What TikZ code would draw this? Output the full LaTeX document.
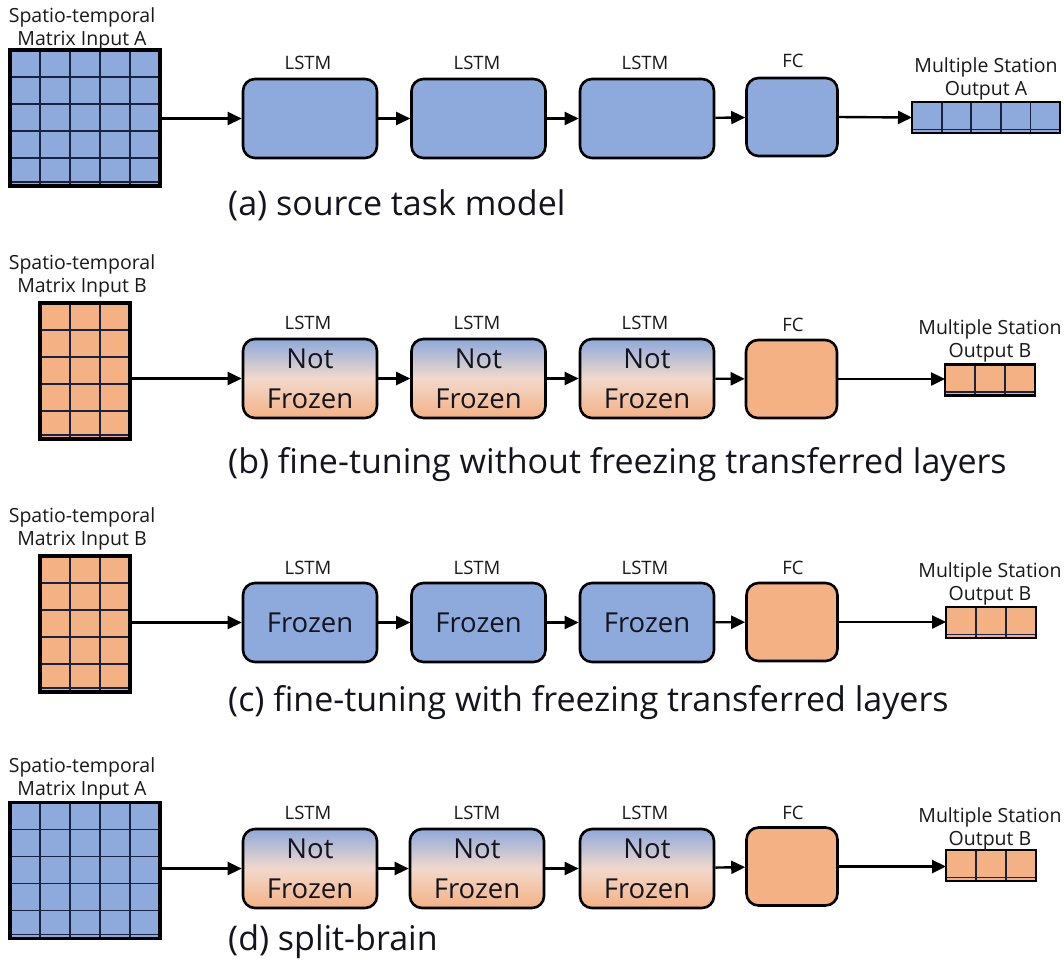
\documentclass[tikz,border=0pt]{standalone}
\usepackage{fontspec}
\setmainfont{Open Sans}
\usetikzlibrary{arrows.meta,calc}
\definecolor{blueF}{RGB}{142,169,219}
\definecolor{orangeF}{RGB}{244,177,131}
\definecolor{peachF}{RGB}{242,217,204}
\definecolor{gridC}{RGB}{25,35,65}
\definecolor{txtC}{RGB}{20,20,30}
\begin{document}
\begin{tikzpicture}[x=1pt,y=-1pt,
  lay/.style={draw=black, line width=2.6pt, rounded corners=12pt, minimum width=134pt, minimum height=79pt, inner sep=0pt, align=center, text=txtC, font=\fontsize{27.5}{40}\selectfont},
  frz/.style={lay, fill=blueF},
  nfrz/.style={lay, top color=blueF, bottom color=orangeF, middle color=peachF},
  fcbox/.style={lay, minimum width=91pt, minimum height=78pt},
  lbl/.style={font=\fontsize{18.5}{22}\selectfont, text=black!90, inner sep=0pt},
  mlbl/.style={font=\fontsize{19.5}{23}\selectfont, text=black!90, inner sep=0pt, align=center},
  captxt/.style={font=\fontsize{34}{38}\selectfont, anchor=west, inner sep=0pt, text=txtC},
  arr/.style={-{Triangle[length=14pt,width=13pt]}, line width=2.4pt},
  gridl/.style={draw=gridC, line width=1.8pt},
  matbase/.style={draw=black, line width=3.4pt, minimum height=136pt, inner sep=0pt, outer sep=0pt},
  matA/.style={matbase, fill=blueF, minimum width=150pt, path picture={
    \foreach \i in {1,2,3,4} \draw[gridl] ($(path picture bounding box.north west)+(\i*30pt,0pt)$) -- ++(0pt,-140pt);
    \foreach \j in {27,54,81,108,132} \draw[gridl] ($(path picture bounding box.north west)+(0pt,-\j*1pt)$) -- ++(200pt,0pt);}},
  matB/.style={matbase, fill=orangeF, minimum width=90pt, path picture={
    \foreach \i in {1,2} \draw[gridl] ($(path picture bounding box.north west)+(\i*30pt,0pt)$) -- ++(0pt,-140pt);
    \foreach \j in {27,54,81,108,132} \draw[gridl] ($(path picture bounding box.north west)+(0pt,-\j*1pt)$) -- ++(200pt,0pt);}},
  vecbase/.style={draw=black, line width=2.8pt, minimum height=31pt, inner sep=0pt, outer sep=0pt},
  vecA/.style={vecbase, fill=blueF, minimum width=148pt, path picture={
    \foreach \i in {1,2,3,4} \draw[gridl] ($(path picture bounding box.north west)+(\i*29.6pt,0pt)$) -- ++(0pt,-40pt);
    \draw[gridl] ($(path picture bounding box.north west)+(0pt,-27.5pt)$) -- ++(200pt,0pt);}},
  vecB/.style={vecbase, fill=orangeF, minimum width=90pt, path picture={
    \foreach \i in {1,2} \draw[gridl] ($(path picture bounding box.north west)+(\i*30pt,0pt)$) -- ++(0pt,-40pt);
    \draw[gridl] ($(path picture bounding box.north west)+(0pt,-27.5pt)$) -- ++(200pt,0pt);}}
]
\useasboundingbox (0,0) rectangle (1064,970);
\fill[white] (0,0) rectangle (1064,970);

% ---------- (a) ----------
\node[matA] (ainA) at (85,118) {};
\node[mlbl] (ainAl) at (82,28.5) {Spatio-temporal\\Matrix Input A};
\node[frz] (al1) at (310,118.5) {};
\node[frz] (al2) at (478.5,118.5) {};
\node[frz] (al3) at (647,118.5) {};
\node[fcbox, fill=blueF] (afc) at (792,117) {};
\node[lbl] (al1l) at (308,63) {LSTM};
\node[lbl] (al2l) at (477,63) {LSTM};
\node[lbl] (al3l) at (645,63) {LSTM};
\node[lbl] (afcl) at (793,61) {FC};
\node[vecA] (aout) at (986,117.5) {};
\node[mlbl] (aoutl) at (986,79) {Multiple Station\\Output A};
\draw[arr] (ainA.east |- al1.west) -- (al1.west);
\draw[arr] (al1) -- (al2);
\draw[arr] (al2) -- (al3);
\draw[arr] (al3) -- (afc);
\draw[arr] (afc.east) -- (aout.west);
\node[captxt] (acap) at (228,205) {(a) source task model};

% ---------- (b) ----------
\node[matB] (binB) at (85,371) {};
\node[mlbl] (binBl) at (82,276) {Spatio-temporal\\Matrix Input B};
\node[nfrz] (bl1) at (310,378.5) {Not\\Frozen};
\node[nfrz] (bl2) at (478.5,378.5) {Not\\Frozen};
\node[nfrz] (bl3) at (647,378.5) {Not\\Frozen};
\node[fcbox, fill=orangeF] (bfc) at (791.5,379) {};
\node[lbl] (bl1l) at (308,323) {LSTM};
\node[lbl] (bl2l) at (477,323) {LSTM};
\node[lbl] (bl3l) at (645,323) {LSTM};
\node[lbl] (bfcl) at (793,325) {FC};
\node[vecB] (bout) at (990,380) {};
\node[mlbl] (boutl) at (990,341) {Multiple Station\\Output B};
\draw[arr] (binB.east |- bl1.west) -- (bl1.west);
\draw[arr] (bl1) -- (bl2);
\draw[arr] (bl2) -- (bl3);
\draw[arr] (bl3) -- (bfc);
\draw[arr] (bfc.east) -- (bfc.east -| bout.west);
\node[captxt] (bcap) at (228,465) {(b) fine-tuning without freezing transferred layers};

% ---------- (c) ----------
\node[matB] (cinB) at (85,624) {};
\node[mlbl] (cinBl) at (82,528.5) {Spatio-temporal\\Matrix Input B};
\node[frz] (cl1) at (310,622.5) {Frozen};
\node[frz] (cl2) at (478.5,622.5) {Frozen};
\node[frz] (cl3) at (647,622.5) {Frozen};
\node[fcbox, fill=orangeF] (cfc) at (792,622) {};
\node[lbl] (cl1l) at (308,568) {LSTM};
\node[lbl] (cl2l) at (477,568) {LSTM};
\node[lbl] (cl3l) at (645,568) {LSTM};
\node[lbl] (cfcl) at (793,568) {FC};
\node[vecB] (cout) at (991,622.5) {};
\node[mlbl] (coutl) at (990,583.5) {Multiple Station\\Output B};
\draw[arr] (cinB.east |- cl1.west) -- (cl1.west);
\draw[arr] (cl1) -- (cl2);
\draw[arr] (cl2) -- (cl3);
\draw[arr] (cl3) -- (cfc);
\draw[arr] (cfc.east) -- (cfc.east -| cout.west);
\node[captxt] (ccap) at (228,703) {(c) fine-tuning with freezing transferred layers};

% ---------- (d) ----------
\node[matA] (dinA) at (85,870.5) {};
\node[mlbl] (dinAl) at (82,778.5) {Spatio-temporal\\Matrix Input A};
\node[nfrz] (dl1) at (310,868.5) {Not\\Frozen};
\node[nfrz] (dl2) at (477,868.5) {Not\\Frozen};
\node[nfrz] (dl3) at (647,868.5) {Not\\Frozen};
\node[fcbox, fill=orangeF] (dfc) at (792,866.5) {};
\node[lbl] (dl1l) at (308,813) {LSTM};
\node[lbl] (dl2l) at (477,813) {LSTM};
\node[lbl] (dl3l) at (645,813) {LSTM};
\node[lbl] (dfcl) at (793,813) {FC};
\node[vecB] (dout) at (991,865.5) {};
\node[mlbl] (doutl) at (990,828.5) {Multiple Station\\Output B};
\draw[arr] (dinA.east |- dl1.west) -- (dl1.west);
\draw[arr] (dl1) -- (dl2);
\draw[arr] (dl2) -- (dl3);
\draw[arr] (dl3) -- (dfc);
\draw[arr] (dfc.east) -- (dfc.east -| dout.west);
\node[captxt] (dcap) at (228,942) {(d) split-brain};
\end{tikzpicture}
\end{document}
